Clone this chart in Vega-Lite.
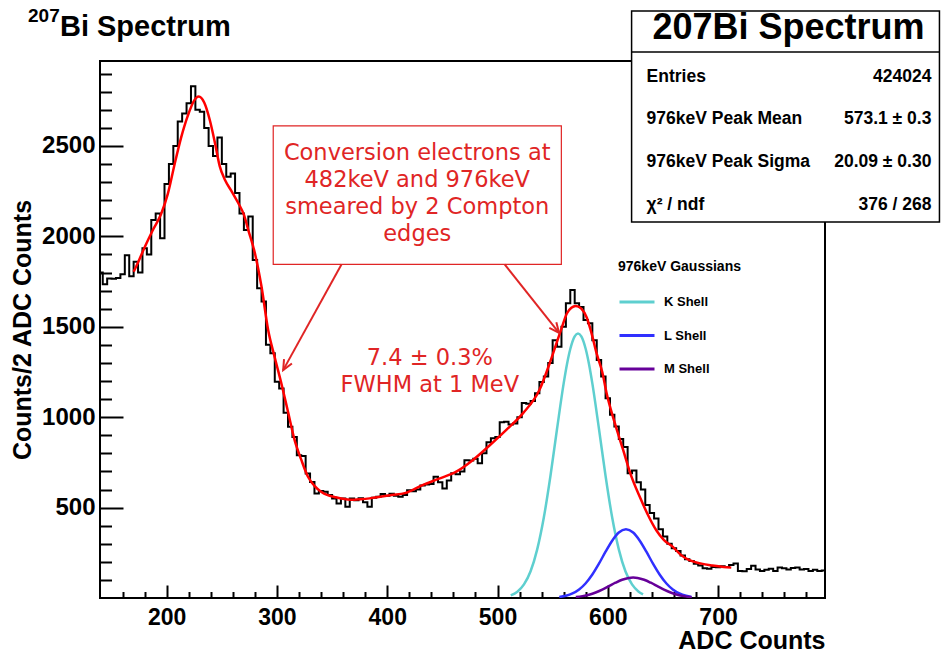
{
  "$schema": "https://vega.github.io/schema/vega-lite/v6.json",
  "width": 725,
  "height": 537,
  "autosize": {"type": "none"},
  "padding": {"left": 100, "top": 61, "right": 116, "bottom": 53},
  "background": "white",
  "config": {
    "view": {"stroke": "black", "strokeWidth": 2},
    "font": "Liberation Sans",
    "axis": {"grid": false}
  },
  "datasets": {
    "hist": [
      {"x":140,"y":1800},{"x":144,"y":1735},{"x":148,"y":1767},{"x":152,"y":1765},{"x":156,"y":1770},{"x":160,"y":1790},{"x":164,"y":1895},{"x":168,"y":1780},{"x":172,"y":1860},{"x":176,"y":1800},
      {"x":180,"y":1935},{"x":184,"y":1900},{"x":188,"y":2090},{"x":192,"y":2127},{"x":196,"y":1990},{"x":200,"y":2290},{"x":204,"y":2400},{"x":208,"y":2500},{"x":212,"y":2635},{"x":216,"y":2680},
      {"x":220,"y":2736},{"x":224,"y":2830},{"x":228,"y":2700},{"x":232,"y":2690},{"x":236,"y":2600},{"x":240,"y":2500},{"x":244,"y":2445},{"x":248,"y":2547},{"x":252,"y":2400},{"x":256,"y":2330},
      {"x":260,"y":2348},{"x":264,"y":2240},{"x":268,"y":2127},{"x":272,"y":2035},{"x":276,"y":2110},{"x":280,"y":1870},{"x":284,"y":1713},{"x":288,"y":1640},{"x":292,"y":1400},{"x":296,"y":1353},
      {"x":300,"y":1196},{"x":304,"y":1159},{"x":308,"y":1025},{"x":312,"y":947},{"x":316,"y":891},{"x":320,"y":790},{"x":324,"y":786},{"x":328,"y":689},{"x":332,"y":642},{"x":336,"y":578},
      {"x":340,"y":592},{"x":344,"y":587},{"x":348,"y":569},{"x":352,"y":550},{"x":356,"y":522},{"x":360,"y":550},{"x":364,"y":504},{"x":368,"y":550},{"x":372,"y":540},{"x":376,"y":552},
      {"x":380,"y":530},{"x":384,"y":504},{"x":388,"y":555},{"x":392,"y":560},{"x":396,"y":575},{"x":400,"y":565},{"x":404,"y":577},{"x":408,"y":566},{"x":412,"y":560},{"x":416,"y":570},
      {"x":420,"y":596},{"x":424,"y":590},{"x":428,"y":600},{"x":432,"y":622},{"x":436,"y":628},{"x":440,"y":630},{"x":444,"y":670},{"x":448,"y":640},{"x":452,"y":606},{"x":456,"y":650},
      {"x":460,"y":690},{"x":464,"y":685},{"x":468,"y":700},{"x":472,"y":762},{"x":476,"y":760},{"x":480,"y":770},{"x":484,"y":745},{"x":488,"y":800},{"x":492,"y":862},{"x":496,"y":884},
      {"x":500,"y":890},{"x":504,"y":972},{"x":508,"y":975},{"x":512,"y":960},{"x":516,"y":965},{"x":520,"y":1000},{"x":524,"y":1078},{"x":528,"y":1075},{"x":532,"y":1090},{"x":536,"y":1133},
      {"x":540,"y":1194},{"x":544,"y":1225},{"x":548,"y":1300},{"x":552,"y":1426},{"x":556,"y":1390},{"x":560,"y":1500},{"x":564,"y":1630},{"x":568,"y":1703},{"x":572,"y":1630},{"x":576,"y":1610},
      {"x":580,"y":1537},{"x":584,"y":1520},{"x":588,"y":1426},{"x":592,"y":1316},{"x":596,"y":1225},{"x":600,"y":1105},{"x":604,"y":1013},{"x":608,"y":948},{"x":612,"y":880},{"x":616,"y":835},
      {"x":620,"y":690},{"x":624,"y":705},{"x":628,"y":640},{"x":632,"y":600},{"x":636,"y":515},{"x":640,"y":470},{"x":644,"y":440},{"x":648,"y":380},{"x":652,"y":340},{"x":656,"y":300},
      {"x":660,"y":275},{"x":664,"y":260},{"x":668,"y":235},{"x":672,"y":215},{"x":676,"y":205},{"x":680,"y":190},{"x":684,"y":180},{"x":688,"y":165},{"x":692,"y":162},{"x":696,"y":172},
      {"x":700,"y":170},{"x":704,"y":176},{"x":708,"y":172},{"x":712,"y":182},{"x":716,"y":191},{"x":720,"y":150},{"x":724,"y":148},{"x":728,"y":160},{"x":732,"y":178},{"x":736,"y":158},
      {"x":740,"y":150},{"x":744,"y":156},{"x":748,"y":162},{"x":752,"y":150},{"x":756,"y":168},{"x":760,"y":165},{"x":764,"y":158},{"x":768,"y":166},{"x":772,"y":168},{"x":776,"y":158},
      {"x":780,"y":160},{"x":784,"y":150},{"x":788,"y":156},{"x":792,"y":150},{"x":796,"y":152},{"x":800,"y":152}
    ],
    "fit": [
      {"x":170,"y":1804},{"x":175,"y":1870},{"x":180,"y":1940},{"x":187,"y":2030},{"x":195,"y":2125},{"x":201,"y":2235},{"x":207,"y":2395},{"x":213,"y":2545},{"x":219,"y":2665},{"x":225,"y":2752},
      {"x":229,"y":2773},{"x":234,"y":2740},{"x":239,"y":2645},{"x":244,"y":2510},{"x":248,"y":2390},{"x":253,"y":2310},{"x":259,"y":2248},{"x":265,"y":2183},{"x":270,"y":2120},{"x":274,"y":2035},
      {"x":280,"y":1906},{"x":286,"y":1721},{"x":292,"y":1482},{"x":298,"y":1330},{"x":304,"y":1186},{"x":310,"y":1030},{"x":316,"y":873},{"x":322,"y":765},{"x":328,"y":672},{"x":334,"y":620},
      {"x":340,"y":588},{"x":346,"y":569},{"x":352,"y":559},{"x":358,"y":550},{"x":364,"y":545},{"x":370,"y":544},{"x":376,"y":546},{"x":384,"y":551},{"x":392,"y":559},{"x":404,"y":570},
      {"x":416,"y":580},{"x":432,"y":624},{"x":447,"y":660},{"x":463,"y":700},{"x":478,"y":765},{"x":493,"y":845},{"x":508,"y":930},{"x":523,"y":1021},{"x":538,"y":1150},{"x":548,"y":1310},
      {"x":553,"y":1400},{"x":558,"y":1490},{"x":563,"y":1575},{"x":567,"y":1605},{"x":571,"y":1615},{"x":576,"y":1600},{"x":581,"y":1550},{"x":585,"y":1470},{"x":590,"y":1350},{"x":595,"y":1250},
      {"x":599,"y":1131},{"x":606,"y":975},{"x":614,"y":818},{"x":621,"y":680},{"x":629,"y":560},{"x":636,"y":465},{"x":644,"y":375},{"x":651,"y":320},{"x":659,"y":283},{"x":666,"y":240},
      {"x":674,"y":209},{"x":685,"y":190},{"x":695,"y":180},{"x":705,"y":172},{"x":712,"y":168}
    ],
    "gauss": [
      {"shell":"K Shell","x":512,"y":14.6},{"shell":"K Shell","x":518,"y":34.6},{"shell":"K Shell","x":524,"y":75},{"shell":"K Shell","x":530,"y":148},{"shell":"K Shell","x":536,"y":269},{"shell":"K Shell","x":542,"y":445},{"shell":"K Shell","x":548,"y":675},{"shell":"K Shell","x":554,"y":936},{"shell":"K Shell","x":560,"y":1187},{"shell":"K Shell","x":563,"y":1293},{"shell":"K Shell","x":566,"y":1377},{"shell":"K Shell","x":570,"y":1447},{"shell":"K Shell","x":573,"y":1463},{"shell":"K Shell","x":576,"y":1447},{"shell":"K Shell","x":580,"y":1377},{"shell":"K Shell","x":583,"y":1293},{"shell":"K Shell","x":586,"y":1187},{"shell":"K Shell","x":592,"y":936},{"shell":"K Shell","x":598,"y":675},{"shell":"K Shell","x":604,"y":445},{"shell":"K Shell","x":610,"y":269},{"shell":"K Shell","x":616,"y":148},{"shell":"K Shell","x":622,"y":75},{"shell":"K Shell","x":628,"y":34.6},{"shell":"K Shell","x":632,"y":19.7},
      {"shell":"L Shell","x":556,"y":5.5},{"shell":"L Shell","x":562,"y":12.3},{"shell":"L Shell","x":568,"y":25},{"shell":"L Shell","x":574,"y":47},{"shell":"L Shell","x":580,"y":81.5},{"shell":"L Shell","x":586,"y":130},{"shell":"L Shell","x":592,"y":190},{"shell":"L Shell","x":598,"y":256},{"shell":"L Shell","x":604,"y":317},{"shell":"L Shell","x":610,"y":362},{"shell":"L Shell","x":616.5,"y":380},{"shell":"L Shell","x":623,"y":362},{"shell":"L Shell","x":629,"y":317},{"shell":"L Shell","x":635,"y":256},{"shell":"L Shell","x":641,"y":190},{"shell":"L Shell","x":647,"y":130},{"shell":"L Shell","x":653,"y":81.5},{"shell":"L Shell","x":659,"y":47},{"shell":"L Shell","x":665,"y":25},{"shell":"L Shell","x":671,"y":12.3},{"shell":"L Shell","x":676,"y":6.3},
      {"shell":"M Shell","x":571,"y":5.3},{"shell":"M Shell","x":577,"y":10.3},{"shell":"M Shell","x":583,"y":18.4},{"shell":"M Shell","x":589,"y":30.5},{"shell":"M Shell","x":595,"y":46.5},{"shell":"M Shell","x":601,"y":65.3},{"shell":"M Shell","x":607,"y":84.5},{"shell":"M Shell","x":613,"y":100.9},{"shell":"M Shell","x":619,"y":111},{"shell":"M Shell","x":623,"y":113},{"shell":"M Shell","x":627,"y":111},{"shell":"M Shell","x":633,"y":100.9},{"shell":"M Shell","x":639,"y":84.5},{"shell":"M Shell","x":645,"y":65.3},{"shell":"M Shell","x":651,"y":46.5},{"shell":"M Shell","x":657,"y":30.5},{"shell":"M Shell","x":663,"y":18.4},{"shell":"M Shell","x":669,"y":10.3},{"shell":"M Shell","x":676,"y":4.6}
    ],
    "notebox": [{"x":296.6,"y":2610.7,"x2":557.9,"y2":1845.3}],
    "arrows": [{"side":"left","x":358.6,"y":1845.3,"x2":305.6,"y2":1260.4},{"side":"right","x":506.5,"y":1845.3,"x2":555.8,"y2":1466.8}],
    "tips": [{"side":"left","x":305.6,"y":1260.4},{"side":"right","x":555.8,"y":1466.8}],
    "notes": [
      {"x":427.2,"y":2422.5,"text":"Conversion electrons at"},
      {"x":427.2,"y":2273,"text":"482keV and 976keV"},
      {"x":427.2,"y":2123.7,"text":"smeared by 2 Compton"},
      {"x":427.2,"y":1974.3,"text":"edges"},
      {"x":438.6,"y":1288,"text":"7.4 ± 0.3%"},
      {"x":438.6,"y":1140.3,"text":"FWHM at 1 MeV"}
    ],
    "statbox": [{"x":621.6,"y":3247,"x2":900.8,"y2":2079.4}],
    "statline": [{"x":621.6,"y":3020.2,"x2":900.8}],
    "stattitle": [{"x":763.9,"y":3092,"text":"207Bi Spectrum"}],
    "statnames": [
      {"x":635.2,"y":2856,"text":"Entries"},
      {"x":635.2,"y":2619,"text":"976keV Peak Mean"},
      {"x":635.2,"y":2383.7,"text":"976keV Peak Sigma"},
      {"x":635.2,"y":2148.6,"text":"χ² / ndf"}
    ],
    "statvalues": [
      {"x":893.5,"y":2856,"text":"424024"},
      {"x":893.5,"y":2619,"text":"573.1 ± 0.3"},
      {"x":893.5,"y":2383.7,"text":"20.09 ± 0.30"},
      {"x":893.5,"y":2148.6,"text":"376 / 268"}
    ],
    "isotope": [{"x":74.2,"y":3186,"text":"207"}],
    "titletext": [{"x":103.2,"y":3108.7,"text":"Bi Spectrum"}]
  },
  "encoding": {
    "x": {"field": "x", "type": "quantitative", "scale": {"domain": [139.5, 797], "nice": false, "zero": false}, "axis": null},
    "y": {"field": "y", "type": "quantitative", "scale": {"domain": [0, 2970], "nice": false, "zero": false}, "axis": null}
  },
  "layer": [
    {
      "data": {"name": "hist"},
      "mark": {"type": "line", "interpolate": "step", "color": "black", "strokeWidth": 2, "clip": true},
      "encoding": {
        "x": {"field": "x", "type": "quantitative", "scale": {"domain": [139.5, 797], "nice": false, "zero": false},
          "axis": {"orient": "bottom", "values": [200, 300, 400, 500, 600, 700], "format": "d", "tickSize": -13, "tickWidth": 2, "tickColor": "black", "domain": false,
            "labelFont": "Liberation Sans", "labelFontWeight": "bold", "labelFontSize": 23, "labelColor": "black", "labelPadding": 21, "labelOverlap": false, "labelFlush": false,
            "title": "ADC Counts", "titleFont": "Liberation Sans", "titleFontSize": 25, "titleFontWeight": "bold", "titleColor": "black", "titleAnchor": "end", "titlePadding": -1}},
        "y": {"field": "y", "type": "quantitative", "scale": {"domain": [0, 2970], "nice": false, "zero": false},
          "axis": {"orient": "left", "values": [500, 1000, 1500, 2000, 2500], "format": "d", "tickSize": -23, "tickWidth": 2, "tickColor": "black", "domain": false,
            "labelFont": "Liberation Sans", "labelFontWeight": "bold", "labelFontSize": 24, "labelColor": "black", "labelPadding": 28, "labelOverlap": false, "labelFlush": false,
            "title": "Counts/2 ADC Counts", "titleFont": "Liberation Sans", "titleFontSize": 25, "titleFontWeight": "bold", "titleColor": "black", "titlePadding": 6}}
      }
    },
    {
      "data": {"name": "fit"},
      "mark": {"type": "line", "interpolate": "monotone", "color": "#ff0000", "strokeWidth": 2.5, "clip": true},
      "encoding": {
        "x": {"field": "x", "type": "quantitative", "scale": {"domain": [139.5, 797], "nice": false, "zero": false},
          "axis": {"orient": "bottom", "values": [160, 180, 220, 240, 260, 280, 320, 340, 360, 380, 420, 440, 460, 480, 520, 540, 560, 580, 620, 640, 660, 680, 720, 740, 760, 780], "tickSize": -6.5, "tickWidth": 2, "tickColor": "black", "domain": false, "labels": false, "title": null}},
        "y": {"field": "y", "type": "quantitative", "scale": {"domain": [0, 2970], "nice": false, "zero": false},
          "axis": {"orient": "left", "values": [100, 200, 300, 400, 600, 700, 800, 900, 1100, 1200, 1300, 1400, 1600, 1700, 1800, 1900, 2100, 2200, 2300, 2400, 2600, 2700, 2800, 2900], "tickSize": -11.5, "tickWidth": 2, "tickColor": "black", "domain": false, "labels": false, "title": null}}
      }
    },
    {
      "data": {"name": "gauss"},
      "mark": {"type": "line", "interpolate": "monotone", "strokeWidth": 2.5, "clip": true},
      "encoding": {
        "color": {"field": "shell", "type": "nominal",
          "scale": {"domain": ["K Shell", "L Shell", "M Shell"], "range": ["#5ecfcf", "#3030ff", "#660099"]},
          "legend": {"title": "976keV Gaussians", "orient": "none", "legendX": 518, "legendY": 199, "padding": 0,
            "symbolType": "stroke", "symbolSize": 1225, "symbolStrokeWidth": 3, "clipHeight": 20, "rowPadding": 13.5, "labelOffset": 8,
            "titleFont": "Liberation Sans", "titleFontSize": 14, "titleFontWeight": "bold", "titleColor": "black", "titlePadding": 18,
            "labelFont": "Liberation Sans", "labelFontSize": 13, "labelFontWeight": "bold", "labelColor": "black"}}
      }
    },
    {
      "data": {"name": "notebox"},
      "mark": {"type": "rect", "fill": "white", "stroke": "#e02525", "strokeWidth": 1.2},
      "encoding": {"x2": {"field": "x2"}, "y2": {"field": "y2"}}
    },
    {
      "data": {"name": "arrows"},
      "mark": {"type": "rule", "color": "#e02525", "strokeWidth": 2},
      "encoding": {"x2": {"field": "x2"}, "y2": {"field": "y2"}}
    },
    {
      "data": {"name": "tips"},
      "transform": [{"filter": "datum.side === 'left'"}],
      "mark": {"type": "point", "shape": "M-0.45,1L0,0L0.45,1", "filled": false, "stroke": "#e02525", "strokeWidth": 2, "size": 400, "angle": 208.9, "opacity": 1}
    },
    {
      "data": {"name": "tips"},
      "transform": [{"filter": "datum.side === 'right'"}],
      "mark": {"type": "point", "shape": "M-0.45,1L0,0L0.45,1", "filled": false, "stroke": "#e02525", "strokeWidth": 2, "size": 400, "angle": 141.5, "opacity": 1}
    },
    {
      "data": {"name": "notes"},
      "mark": {"type": "text", "font": "DejaVu Sans", "fontSize": 22.5, "color": "#e02525", "align": "center", "baseline": "alphabetic"},
      "encoding": {"text": {"field": "text"}}
    },
    {
      "data": {"name": "statbox"},
      "mark": {"type": "rect", "fill": "white", "stroke": "black", "strokeWidth": 1.5},
      "encoding": {"x2": {"field": "x2"}, "y2": {"field": "y2"}}
    },
    {
      "data": {"name": "statline"},
      "mark": {"type": "rule", "color": "black", "strokeWidth": 1.5},
      "encoding": {"x2": {"field": "x2"}}
    },
    {
      "data": {"name": "stattitle"},
      "mark": {"type": "text", "font": "Liberation Sans", "fontWeight": "bold", "fontSize": 36, "color": "black", "align": "center", "baseline": "alphabetic"},
      "encoding": {"text": {"field": "text"}}
    },
    {
      "data": {"name": "statnames"},
      "mark": {"type": "text", "font": "Liberation Sans", "fontWeight": "bold", "fontSize": 17.5, "color": "black", "align": "left", "baseline": "alphabetic"},
      "encoding": {"text": {"field": "text"}}
    },
    {
      "data": {"name": "statvalues"},
      "mark": {"type": "text", "font": "Liberation Sans", "fontWeight": "bold", "fontSize": 17.5, "color": "black", "align": "right", "baseline": "alphabetic"},
      "encoding": {"text": {"field": "text"}}
    },
    {
      "data": {"name": "isotope"},
      "mark": {"type": "text", "font": "Liberation Sans", "fontWeight": "bold", "fontSize": 19, "color": "black", "align": "left", "baseline": "alphabetic"},
      "encoding": {"text": {"field": "text"}}
    },
    {
      "data": {"name": "titletext"},
      "mark": {"type": "text", "font": "Liberation Sans", "fontWeight": "bold", "fontSize": 29, "color": "black", "align": "left", "baseline": "alphabetic"},
      "encoding": {"text": {"field": "text"}}
    }
  ],
  "resolve": {"axis": {"x": "independent", "y": "independent"}}
}
